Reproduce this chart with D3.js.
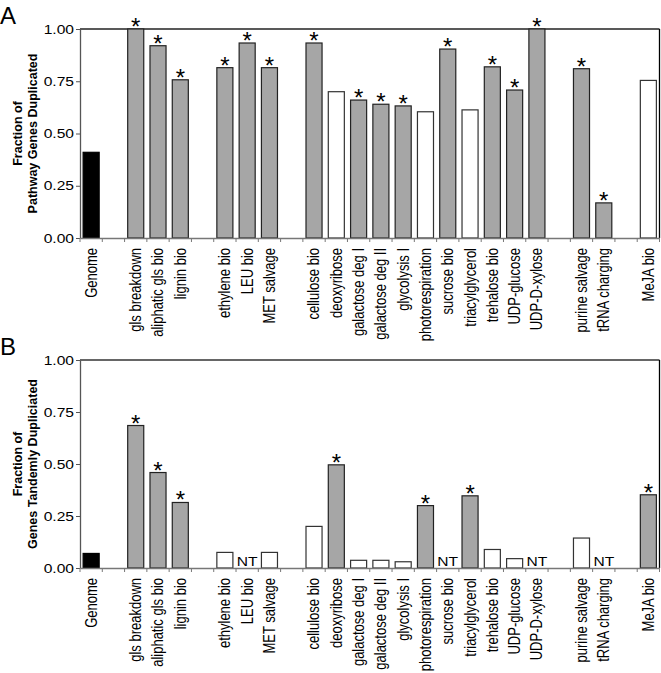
<!DOCTYPE html>
<html><head><meta charset="utf-8">
<script src="https://cdn.jsdelivr.net/npm/d3@7/dist/d3.min.js"></script>
<style>
html,body{margin:0;padding:0;background:#fff;}
svg{display:block;font-family:Arial,"Liberation Sans",Helvetica,sans-serif;}
</style></head>
<body>
<svg id="chart" width="661" height="673"></svg>
<script>
// Slots (gaps are empty slots, as in the original figure)
const categories = ["Genome","_g1","gls breakdown","aliphatic gls bio","lignin bio","_g2","ethylene bio","LEU bio","MET salvage","_g3","cellulose bio","deoxyribose","galactose deg I","galactose deg II","glycolysis I","photorespiration","sucrose bio","triacylglycerol","trehalose bio","UDP-glucose","UDP-D-xylose","_g4","purine salvage","tRNA charging","_g5","MeJA bio"];

// Panel A: fraction of pathway genes duplicated
const valuesA = [0.41,null,1.00,0.92,0.757,null,0.815,0.933,0.815,null,0.933,0.70,0.66,0.64,0.632,0.604,0.904,0.613,0.819,0.708,1.00,null,0.81,0.168,null,0.754];
const statusA = ["genome",null,"sig","sig","sig",null,"sig","sig","sig",null,"sig","ns","sig","sig","sig","ns","sig","ns","sig","sig","sig",null,"sig","sig",null,"ns"];

// Panel B: fraction of genes tandemly duplicated
const valuesB = [0.07,null,0.685,0.459,0.315,null,0.075,null,0.075,null,0.20,0.496,0.037,0.037,0.03,0.30,null,0.347,0.089,0.045,null,null,0.144,null,null,0.352];
const statusB = ["genome",null,"sig","sig","sig",null,"ns",null,"ns",null,"ns","sig","ns","ns","ns","sig",null,"sig","ns","ns",null,null,"ns",null,null,"sig"];
const notTestedB = ["LEU bio","sucrose bio","UDP-D-xylose","tRNA charging"];

const yTicks = [0,0.25,0.5,0.75,1.0];

const svg = d3.select("#chart");
const left = 80, right = 659.5;
const x = d3.scaleBand().domain(categories).range([left,right]).paddingInner(0.28).paddingOuter(0.14);
const step = x.step();
const fills = {genome:"#000000", sig:"#a6a6a6", ns:"#ffffff"};
const strokes = {genome:"#000000", sig:"#222222", ns:"#333333"};
const SX = 1.2; // horizontal stretch of the original figure's text

function panel(cfg){
  const y = d3.scaleLinear().domain([0,1]).range([cfg.bottom,cfg.top]);
  const g = svg.append("g");
  g.append("text").attr("x",0).attr("y",cfg.top-5).attr("font-size",24).attr("fill","#000").text(cfg.letter);
  g.append("line").attr("x1",left).attr("x2",right).attr("y1",cfg.top).attr("y2",cfg.top)
    .attr("stroke",cfg.topColor).attr("stroke-width",cfg.topWidth);
  g.append("line").attr("x1",right).attr("x2",right).attr("y1",cfg.top).attr("y2",cfg.bottom)
    .attr("stroke","#000").attr("stroke-width",1.3);
  const data = categories.map((c,i)=>({c, v:cfg.values[i], s:cfg.status[i]})).filter(d=>d.v!=null);
  g.selectAll("rect.bar").data(data).enter().append("rect")
    .attr("x",d=>x(d.c)).attr("width",x.bandwidth())
    .attr("y",d=>y(d.v)).attr("height",d=>cfg.bottom-y(d.v))
    .attr("fill",d=>fills[d.s]).attr("stroke",d=>strokes[d.s]).attr("stroke-width",1.2);
  g.selectAll("text.star").data(data.filter(d=>d.s==="sig")).enter().append("text")
    .attr("x",d=>x(d.c)+x.bandwidth()/2).attr("y",d=>y(d.v)+6)
    .attr("text-anchor","middle").attr("font-size",24).attr("fill","#000").text("*");
  g.selectAll("text.nt").data(cfg.nt).enter().append("text")
    .attr("transform",d=>`translate(${x(d)+x.bandwidth()/2},${cfg.bottom-2}) scale(${SX},1)`)
    .attr("text-anchor","middle").attr("font-size",13).attr("fill","#000").text("NT");
  const ya = d3.axisLeft(y).tickValues(yTicks).tickFormat(d3.format(".2f")).tickSize(4).tickSizeOuter(0);
  const yg = g.append("g").attr("transform",`translate(${left},0)`).call(ya);
  yg.select(".domain").attr("stroke","#555").attr("stroke-width",1.3);
  yg.selectAll(".tick line").attr("stroke","#555");
  yg.selectAll(".tick text").attr("font-size",13).attr("fill","#000").attr("x",0).attr("dx",0)
    .attr("text-anchor","end")
    .attr("transform",`translate(-6,0) scale(${SX},1)`);
  const xa = d3.axisBottom(x).tickSize(0).tickFormat(d=>d.startsWith("_")?"":d);
  const xg = g.append("g").attr("transform",`translate(0,${cfg.bottom})`).call(xa);
  xg.select(".domain").attr("stroke","#777").attr("stroke-width",1.3);
  xg.selectAll(".tick text").attr("font-size",13).attr("fill","#000")
    .attr("x",0).attr("y",0).attr("dy","0.35em")
    .attr("text-anchor","end")
    .attr("transform",`translate(0,10) scale(${SX},1) rotate(-90)`);
  const bounds = d3.range(categories.length+1).map(i=>left+i*step);
  g.selectAll("line.bt").data(bounds).enter().append("line")
    .attr("x1",d=>d).attr("x2",d=>d).attr("y1",cfg.bottom).attr("y2",cfg.bottom+4)
    .attr("stroke","#777").attr("stroke-width",1);
  const cy = (cfg.top+cfg.bottom)/2;
  const t = g.append("text").attr("transform",`translate(24,${cy}) rotate(-90)`)
    .attr("text-anchor","middle").attr("font-size",12.5).attr("font-weight","bold").attr("fill","#000");
  t.append("tspan").attr("x",0).attr("dy",-2).text("Fraction of");
  t.append("tspan").attr("x",0).attr("dy",15).text(cfg.title);
}

panel({letter:"A", top:29, bottom:238, values:valuesA, status:statusA, nt:[], topColor:"#222", topWidth:1.3,
  title:"Pathway Genes Duplicated"});
panel({letter:"B", top:360, bottom:568, values:valuesB, status:statusB, nt:notTestedB, topColor:"#666", topWidth:2,
  title:"Genes Tandemly Dupliciated"});
</script>
</body></html>
